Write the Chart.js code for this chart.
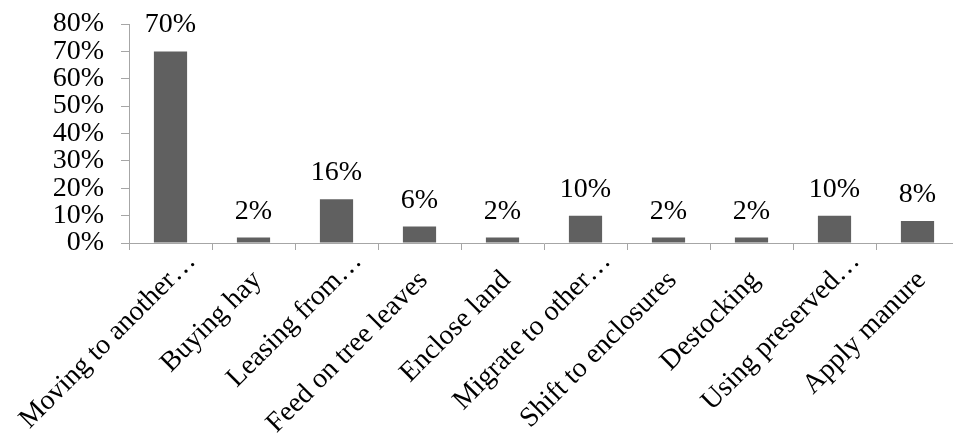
<!DOCTYPE html>
<html>
<head>
<meta charset="utf-8">
<script src="https://cdn.jsdelivr.net/npm/chart.js@4/dist/chart.umd.min.js"></script>
<style>
  html, body { margin: 0; padding: 0; background: #fff; overflow: hidden; }
  #clip { width: 953px; height: 436px; overflow: hidden; }
  /* plot area runs slightly past the right edge, as in the original */
  #wrap { width: 959px; height: 436px; position: relative; }
</style>
</head>
<body>
<div id="clip"><div id="wrap"><canvas id="chart"></canvas></div></div>
<script>
// categories and values
const categories = [
    'Moving to another\u2026',
    'Buying hay',
    'Leasing from\u2026',
    'Feed on tree leaves',
    'Enclose land',
    'Migrate to other\u2026',
    'Shift to enclosures',
    'Destocking',
    'Using preserved\u2026',
    'Apply manure'
];
const shares = [70, 2, 16, 6, 2, 10, 2, 2, 10, 8];
const yTicks = [0, 10, 20, 30, 40, 50, 60, 70, 80];

const FONT = "'Liberation Serif', 'Times New Roman', serif";
const FONT_SIZE = 28;
const BAR_COLOR = '#606060';
const AXIS_COLOR = '#a6a6a6';

// value labels above each bar
const valueLabels = {
    id: 'valueLabels',
    afterDatasetsDraw(chart) {
        const ctx = chart.ctx;
        const meta = chart.getDatasetMeta(0);
        ctx.save();
        ctx.font = FONT_SIZE + 'px ' + FONT;
        ctx.fillStyle = '#000';
        ctx.textAlign = 'center';
        ctx.textBaseline = 'alphabetic';
        meta.data.forEach((bar, i) => {
            ctx.fillText(shares[i] + '%', bar.x, bar.y - 19);
        });
        ctx.restore();
    }
};

// category labels at 45 degrees, ending at the category centre
// (truncated ones run a bit past it, like the original)
const categoryLabels = {
    id: 'categoryLabels',
    afterDraw(chart) {
        const ctx = chart.ctx;
        const xs = chart.scales.x;
        ctx.save();
        ctx.font = FONT_SIZE + 'px ' + FONT;
        ctx.fillStyle = '#000';
        ctx.textAlign = 'right';
        ctx.textBaseline = 'middle';
        categories.forEach((label, i) => {
            const cut = label.endsWith('\u2026');
            const x = xs.getPixelForValue(i) + 4 + (cut ? 17 : 0);
            const y = xs.top + 33 - (cut ? 19 : 0);
            ctx.save();
            ctx.translate(x, y);
            ctx.rotate(-Math.PI / 4);
            ctx.fillText(label, 0, 0);
            ctx.restore();
        });
        ctx.restore();
    }
};

new Chart(document.getElementById('chart'), {
    type: 'bar',
    data: {
        labels: categories,
        datasets: [{
            data: shares,
            backgroundColor: BAR_COLOR,
            borderWidth: 0,
            barPercentage: 0.8,
            categoryPercentage: 0.5
        }]
    },
    options: {
        responsive: true,
        maintainAspectRatio: false,
        animation: false,
        layout: { padding: 0 },
        plugins: {
            legend: { display: false },
            tooltip: { enabled: false }
        },
        scales: {
            x: {
                afterFit(scale) {
                    scale.height = 193;
                    scale.paddingLeft = 0;
                    scale.paddingRight = 0;
                },
                grid: {
                    offset: true,
                    drawOnChartArea: false,
                    color: AXIS_COLOR,
                    tickLength: 7
                },
                border: { color: AXIS_COLOR, width: 1 },
                ticks: { display: false }
            },
            y: {
                min: 0,
                max: 80,
                afterFit(scale) {
                    scale.width = 129;
                    scale.paddingTop = 24;
                },
                afterBuildTicks(axis) {
                    axis.ticks = yTicks.map(v => ({ value: v }));
                },
                grid: {
                    drawOnChartArea: false,
                    color: AXIS_COLOR,
                    tickLength: 8
                },
                border: { color: AXIS_COLOR, width: 1 },
                ticks: {
                    color: '#000',
                    font: { family: FONT, size: FONT_SIZE, lineHeight: 1 },
                    autoSkip: false,
                    padding: 17,
                    callback: v => v + '%'
                }
            }
        }
    },
    plugins: [valueLabels, categoryLabels]
});
</script>
</body>
</html>
